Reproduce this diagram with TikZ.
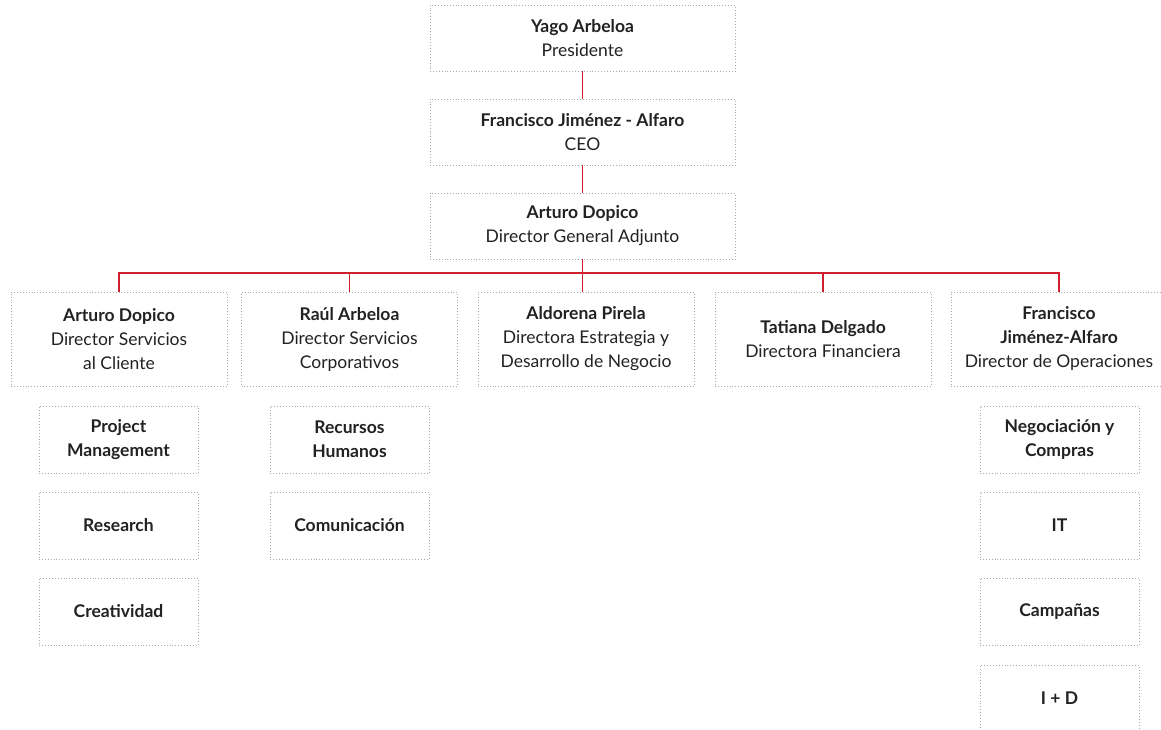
\documentclass[tikz,border=0pt]{standalone}
\usepackage{fontspec}
\setmainfont{Lato}
\definecolor{txt}{HTML}{222222}
\definecolor{redline}{HTML}{D0202E}
\definecolor{dotgray}{HTML}{AAAAAA}
\begin{document}
\begin{tikzpicture}[x=1pt,y=-1pt,
  box/.style={draw=dotgray, dotted, line width=0.9pt, align=center, text=txt, inner sep=2pt,
    font=\fontsize{17.5}{24}\selectfont},
  topbox/.style={box, minimum width=305pt, minimum height=66pt},
  midbox/.style={box, minimum width=216pt, minimum height=94pt},
  subbox/.style={box, minimum width=159pt, minimum height=67pt},
  conn/.style={draw=redline, line width=1.6pt}]
\fill[white] (0,0) rectangle (1161,730);
\useasboundingbox (0,0) rectangle (1161,730);
\node[topbox] (pres) at (582.5,38) {\textbf{Yago Arbeloa}\\Presidente};
\node[topbox] (ceo) at (582.5,132) {\textbf{Francisco Jiménez - Alfaro}\\CEO};
\node[topbox] (dga) at (582.5,226) {\textbf{Arturo Dopico}\\Director General Adjunto};
\node[midbox] (sc) at (119,339) {\textbf{Arturo Dopico}\\Director Servicios\\al Cliente};
\node[midbox] (corp) at (349.5,339) {\textbf{Raúl Arbeloa}\\Director Servicios\\Corporativos};
\node[midbox] (estr) at (586,339) {\textbf{Aldorena Pirela}\\Directora Estrategia y\\Desarrollo de Negocio};
\node[midbox] (fin) at (823,339) {\textbf{Tatiana Delgado}\\Directora Financiera};
\node[midbox] (ops) at (1059,339) {\textbf{Francisco}\\\textbf{Jiménez-Alfaro}\\Director de Operaciones};
\node[subbox] (pm) at (118.5,439.5) {\textbf{Project}\\\textbf{Management}};
\node[subbox] (res) at (118.5,525.5) {\textbf{Research}};
\node[subbox] (crea) at (118.5,611.5) {\textbf{Creatividad}};
\node[subbox] (rh) at (349.5,439.5) {\textbf{Recursos}\\\textbf{Humanos}};
\node[subbox] (com) at (349.5,525.5) {\textbf{Comunicación}};
\node[subbox] (neg) at (1059.5,439.5) {\textbf{Negociación y}\\\textbf{Compras}};
\node[subbox] (it) at (1059.5,525.5) {\textbf{IT}};
\node[subbox] (camp) at (1059.5,611.5) {\textbf{Campañas}};
\node[subbox] (id) at (1059.5,698.5) {\textbf{I + D}};
\coordinate (hub) at (582.5,273);
\draw[conn] (pres.south) -- (ceo.north);
\draw[conn] (ceo.south) -- (dga.north);
\draw[conn] (dga.south) -- (hub);
\draw[conn] (hub) -| (sc.north);
\draw[conn] (hub) -| (corp.north);
\draw[conn] (hub) -- (hub |- estr.north);
\draw[conn] (hub) -| (fin.north);
\draw[conn] (hub) -| (ops.north);
\end{tikzpicture}
\end{document}
